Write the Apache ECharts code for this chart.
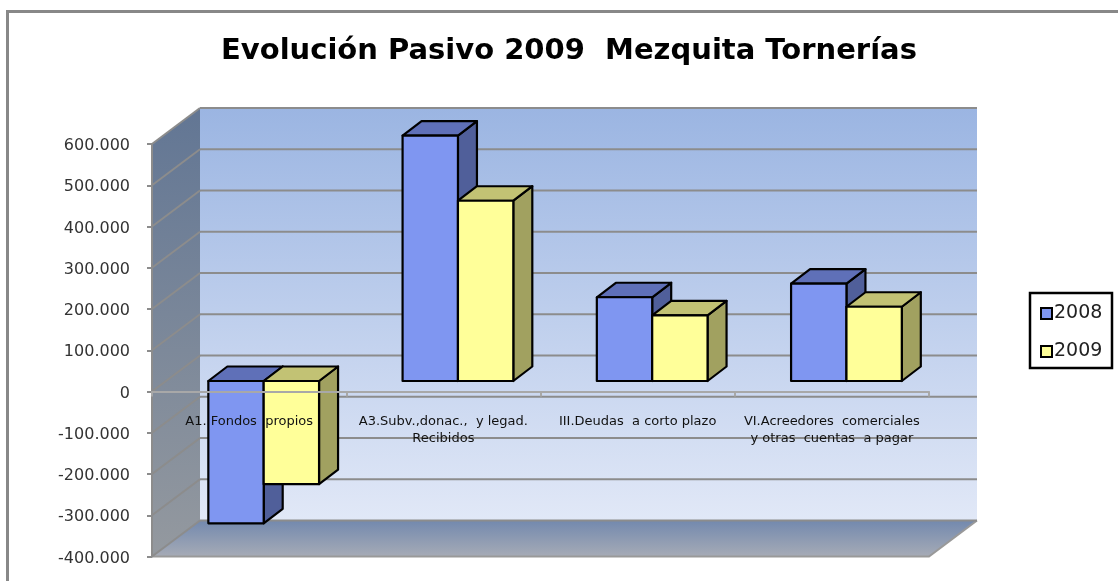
<!DOCTYPE html>
<html><head><meta charset="utf-8">
<style>html,body{margin:0;padding:0;background:#fff}#c{width:1118px;height:581px}</style>
<script src="https://cdn.jsdelivr.net/npm/echarts@6/dist/echarts.min.js"></script>
</head><body><div id="c"></div>
<script>
const categories = ['A1. Fondos  propios', 'A3.Subv.,donac.,  y legad.\nRecibidos', 'III.Deudas  a corto plazo', 'VI.Acreedores  comerciales\ny otras  cuentas  a pagar'];
const values2008 = [-345000, 595000, 203000, 236000];
const values2009 = [-250000, 437000, 159000, 180000];
const yTicks = [600000, 500000, 400000, 300000, 200000, 100000, 0, -100000, -200000, -300000, -400000];

const DX = 48, DY = 36;
const grad = (a, b) => new echarts.graphic.LinearGradient(0, 0, 0, 1, [{offset:0,color:a},{offset:1,color:b}]);

function renderWalls(params, api) {
  const r = params.coordSys;
  const L = r.x, T = r.y, R = r.x + r.width, B = r.y + r.height;
  return {type:'group', children:[
    {type:'polygon', shape:{points:[[L+DX,T-DY],[R+DX,T-DY],[R+DX,B-DY],[L+DX,B-DY]]},
     style:{fill:grad('#9bb5e2','#e1e8f7')}},
    {type:'polygon', shape:{points:[[L,T],[L+DX,T-DY],[L+DX,B-DY],[L,B]]},
     style:{fill:grad('#627694','#94999f')}},
    {type:'polygon', shape:{points:[[L,B],[L+DX,B-DY],[R+DX,B-DY],[R,B]]},
     style:{fill:grad('#7389ae','#a6abb6')}},
    {type:'polyline', shape:{points:[[L,B],[R,B],[R+DX,B-DY]]}, style:{stroke:'#999',lineWidth:2,fill:null}}
  ]};
}
function renderGrid(params, api) {
  const r = params.coordSys;
  const y = api.coord([0, api.value(0)])[1];
  const L = r.x, R = r.x + r.width;
  const st = {stroke:'#8c8c8c', lineWidth:2, fill:null};
  return {type:'group', children:[
    {type:'line', shape:{x1:L,y1:y,x2:L+DX,y2:y-DY}, style:st},
    {type:'line', shape:{x1:L+DX,y1:y-DY,x2:R+DX,y2:y-DY}, style:st}
  ]};
}
function renderBar(colors, side) {
  return function (params, api) {
    const cat = api.value(0), v = api.value(1);
    const band = api.size([1, 0])[0];
    const cx = api.coord([cat, 0])[0];
    const w = band * 0.285;
    const off = [band * 0.075, -10.5], d = [19, -14.5];
    const x0 = cx + off[0] + (side ? 0 : -w);
    const x1 = x0 + w;
    const y0 = api.coord([cat, 0])[1] + off[1];
    const yv = api.coord([cat, v])[1] + off[1];
    const t = Math.min(y0, yv), b = Math.max(y0, yv);
    const st = (fill) => ({fill, stroke:'#000', lineWidth:2.2, lineJoin:'round'});
    return {type:'group', children:[
      {type:'polygon', shape:{points:[[x1,t],[x1+d[0],t+d[1]],[x1+d[0],b+d[1]],[x1,b]]}, style:st(colors[2])},
      {type:'polygon', shape:{points:[[x0,t],[x0+d[0],t+d[1]],[x1+d[0],t+d[1]],[x1,t]]}, style:st(colors[1])},
      {type:'polygon', shape:{points:[[x0,t],[x1,t],[x1,b],[x0,b]]}, style:st(colors[0])}
    ]};
  };
}
const blue = ['#7f96f1','#5f70b8','#505f9a'];
const yellow = ['#ffff99','#c2c274','#a1a160'];

const chart = echarts.init(document.getElementById('c'), null, {renderer:'canvas'});
chart.setOption({
  animation:false,
  backgroundColor:'#fff',
  title:{text:'Evolución Pasivo 2009  Mezquita Tornerías', left:216, top:32,
    textStyle:{fontFamily:'DejaVu Sans', fontWeight:'bold', fontSize:29, color:'#000'}},
  graphic:[
    {type:'polyline', z:-1, silent:true,
      shape:{points:[[7.5,590],[7.5,11.5],[1125,11.5]]}, style:{stroke:'#888', lineWidth:3, fill:null}},
    {type:'rect', z:-1, silent:true, shape:{x:1030,y:293,width:82,height:75}, style:{stroke:'#000', lineWidth:2.5, fill:'#fff'}}
  ],
  legend:{data:['2008','2009'], orient:'vertical', left:1030, top:294,
    padding:[10,0,0,10], itemGap:19,
    itemWidth:11, itemHeight:11, icon:'rect',
    textStyle:{fontFamily:'DejaVu Sans', fontSize:19, color:'#222', padding:[0,0,0,-3]}},
  grid:{left:152, right:189, top:144, bottom:24.5, outerBoundsMode:'none', containLabel:false},
  xAxis:{type:'category', data:categories, z:10,
    axisLine:{onZero:true, lineStyle:{color:'#a8a8a8', width:2}},
    axisTick:{show:true, alignWithLabel:false, length:5, lineStyle:{color:'#a8a8a8', width:2}},
    axisLabel:{interval:0, margin:-143, fontFamily:'DejaVu Sans', fontSize:13, lineHeight:17, color:'#111'},
    splitLine:{show:false}},
  yAxis:{type:'value', min:-400000, max:600000, interval:100000, z:1,
    axisLine:{show:true, lineStyle:{color:'#8c8c8c', width:2}},
    axisTick:{show:true, length:5, lineStyle:{color:'#8c8c8c', width:2}},
    splitLine:{show:false},
    axisLabel:{margin:22, color:'#333',
      rich:{t:{fontFamily:'DejaVu Sans', fontSize:16, color:'#333', padding:[4,0,0,0]}},
      formatter:(v)=>'{t|'+String(v).replace(/\B(?=(\d{3})+(?!\d))/g,'.')+'}'}},
  series:[
    {type:'custom', name:'walls', z:0, silent:true, data:[[0]], renderItem:renderWalls, encode:{x:-1,y:-1}},
    {type:'custom', name:'grid', z:0, silent:true, data:yTicks.map(v=>[v]), renderItem:renderGrid, encode:{x:-1,y:0}},
    {type:'custom', name:'2008', z:2, itemStyle:{color:blue[0], borderColor:'#000', borderWidth:2},
      data:values2008.map((v,i)=>[i,v]), renderItem:renderBar(blue,false), encode:{x:0,y:1}},
    {type:'custom', name:'2009', z:3, itemStyle:{color:yellow[0], borderColor:'#000', borderWidth:2},
      data:values2009.map((v,i)=>[i,v]), renderItem:renderBar(yellow,true), encode:{x:0,y:1}}
  ]
});
</script></body></html>
